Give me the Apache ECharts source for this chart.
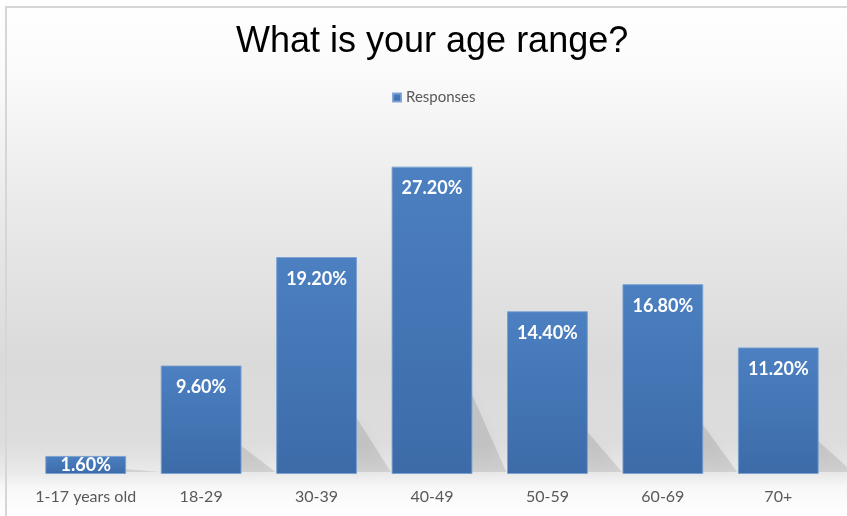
<!DOCTYPE html>
<html>
<head>
<meta charset="utf-8">
<script src="https://cdn.jsdelivr.net/npm/echarts@6/dist/echarts.min.js"></script>
<style>
  html, body { margin: 0; padding: 0; background: #ffffff; }
  #chart { width: 847px; height: 516px; }
</style>
</head>
<body>
<div id="chart"></div>
<script>
// Age ranges and share of responses (%)
const categories = ['1-17 years old', '18-29', '30-39', '40-49', '50-59', '60-69', '70+'];
const responses = [1.6, 9.6, 19.2, 27.2, 14.4, 16.8, 11.2];
const seriesName = 'Responses';
const chartTitle = 'What is your age range?';

const chart = echarts.init(document.getElementById('chart'), null, { renderer: 'canvas' });

// Bars: first one is too short for a top label, so its label sits centred inside
const barData = responses.map((v, i) => ({
  value: v,
  label: i === 0 ? { position: 'inside', distance: 0 } : {}
}));

// Soft floor shadow cast to the lower right of each bar
function renderShadow(params, api) {
  const idx = api.value(0);
  const v = api.value(1);
  const base = api.coord([idx, 0]);
  const top = api.coord([idx, v]);
  const band = api.size([1, 0])[0];
  const right = base[0] + band * 0.35;
  const h = base[1] - top[1];
  const rise = h * 0.3;
  const reach = 34;
  return {
    type: 'polygon',
    shape: {
      points: [
        [right - 6, base[1] - rise],
        [right + reach, base[1] - 2],
        [right - 6, base[1] - 2]
      ]
    },
    style: {
      fill: 'rgba(0,0,0,0.10)',
      shadowBlur: 14,
      shadowColor: 'rgba(0,0,0,0.22)'
    }
  };
}

const option = {
  animation: false,
  backgroundColor: {
    type: 'linear', x: 0, y: 0, x2: 0, y2: 1,
    colorStops: [
      { offset: 0, color: '#ffffff' },
      { offset: 0.15, color: '#fafafa' },
      { offset: 0.4, color: '#eaeaea' },
      { offset: 0.7, color: '#dadada' },
      { offset: 0.86, color: '#dddddd' },
      { offset: 0.92, color: '#ebebeb' },
      { offset: 0.945, color: '#f8f8f8' },
      { offset: 1, color: '#ffffff' }
    ]
  },
  title: {
    text: chartTitle,
    left: 236,
    top: 24,
    padding: 0,
    textStyle: {
      fontFamily: 'Liberation Sans',
      fontSize: 36,
      fontWeight: 'normal',
      color: '#000000'
    }
  },
  legend: {
    data: [seriesName],
    left: 392,
    top: 90,
    padding: 0,
    itemWidth: 8,
    itemHeight: 8,
    itemGap: 4,
    icon: 'rect',
    textStyle: {
      fontFamily: 'Lato',
      fontSize: 15,
      color: '#595959',
      padding: [0, 0, 0, 0]
    }
  },
  grid: {
    left: 28,
    right: 11,
    top: 135,
    bottom: 42,
    containLabel: false
  },
  xAxis: {
    type: 'category',
    data: categories,
    axisLine: { show: false },
    axisTick: { show: false },
    axisLabel: {
      margin: 15,
      fontFamily: 'Lato',
      fontSize: 16,
      color: '#595959',
      interval: 0
    }
  },
  yAxis: {
    type: 'value',
    min: 0,
    max: 30,
    show: false,
    splitLine: { show: false }
  },
  series: [
    {
      type: 'custom',
      name: 'shadow',
      silent: true,
      z: 1,
      renderItem: renderShadow,
      data: responses.map((v, i) => [i, v]),
      encode: { x: 0, y: 1 }
    },
    {
      name: seriesName,
      type: 'bar',
      z: 2,
      data: barData,
      barCategoryGap: '30%',
      itemStyle: {
        color: {
          type: 'linear', x: 0, y: 0, x2: 0, y2: 1,
          colorStops: [
            { offset: 0, color: '#4c80c1' },
            { offset: 1, color: '#3c6ba8' }
          ]
        },
        borderColor: 'rgba(120,160,210,0.9)',
        borderWidth: 1
      },
      label: {
        show: true,
        position: 'insideTop',
        distance: 13,
        formatter: p => p.value.toFixed(2) + '%',
        fontFamily: 'Lato',
        fontWeight: 'bold',
        fontSize: 18,
        color: '#ffffff'
      }
    }
  ],
  graphic: [
    {
      type: 'polyline',
      silent: true,
      shape: { points: [[6, 520], [6, 7], [850, 7]] },
      style: { stroke: '#d6d6d6', lineWidth: 2, fill: null },
      z: 10
    }
  ]
};

chart.setOption(option);
</script>
</body>
</html>
